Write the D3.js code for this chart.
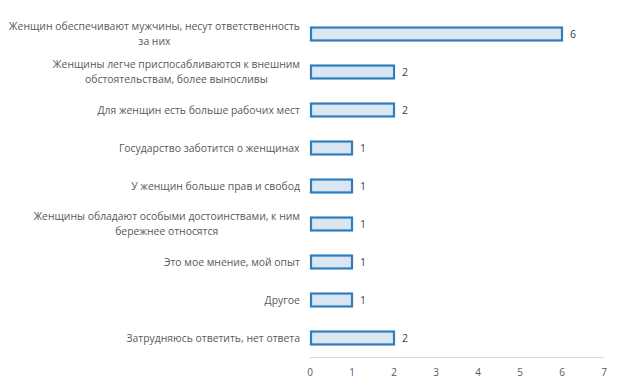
<!DOCTYPE html>
<html lang="ru">
<head>
<meta charset="utf-8">
<title>Chart</title>
<script src="https://cdn.jsdelivr.net/npm/d3@7"></script>
<style>
body { margin: 0; background: #fff; }
text { font-family: "Open Sans", sans-serif; }
</style>
</head>
<body>
<script>
// data
var categories = [
    ["Женщин обеспечивают мужчины, несут ответственность", "за них"],
    ["Женщины легче приспосабливаются к внешним", "обстоятельствам, более выносливы"],
    ["Для женщин есть больше рабочих мест"],
    ["Государство заботится о женщинах"],
    ["У женщин больше прав и свобод"],
    ["Женщины обладают особыми достоинствами, к ним", "бережнее относятся"],
    ["Это мое мнение, мой опыт"],
    ["Другое"],
    ["Затрудняюсь ответить, нет ответа"]
];
var values = [6, 2, 2, 1, 1, 1, 1, 1, 2];
var xTicks = [0, 1, 2, 3, 4, 5, 6, 7];

var w = 622, h = 388;
var plotLeft = 310, plotRight = 604, plotTop = 15, plotBottom = 357;

var svg = d3.select("body").append("svg")
    .attr("width", w)
    .attr("height", h);

var x = d3.scaleLinear().domain([0, 7]).range([plotLeft, plotRight]);
var y = d3.scaleBand()
    .domain(d3.range(categories.length))
    .range([plotTop, plotBottom])
    .paddingInner(0.66)
    .paddingOuter(0.33);

// axis line
svg.append("line")
    .attr("x1", plotLeft).attr("x2", plotRight)
    .attr("y1", plotBottom + 0.5).attr("y2", plotBottom + 0.5)
    .attr("stroke", "#d9d9d9")
    .attr("stroke-width", 1);

// tick labels
svg.selectAll(".tick-label")
    .data(xTicks)
    .enter()
    .append("text")
    .attr("class", "tick-label")
    .attr("x", function(d) { return x(d); })
    .attr("y", 376)
    .attr("text-anchor", "middle")
    .attr("font-size", "10px")
    .attr("fill", "#595959")
    .text(function(d) { return d; });

// bars
svg.selectAll(".bar")
    .data(values)
    .enter()
    .append("rect")
    .attr("class", "bar")
    .attr("x", x(0) + 1)
    .attr("y", function(d, i) { return y(i); })
    .attr("width", function(d) { return x(d) - x(0) - 1; })
    .attr("height", y.bandwidth())
    .attr("fill", "#dae6f2")
    .attr("stroke", "#2e7ebf")
    .attr("stroke-width", 2.2);

// value labels
svg.selectAll(".val")
    .data(values)
    .enter()
    .append("text")
    .attr("class", "val")
    .attr("x", function(d) { return x(d) + 8; })
    .attr("y", function(d, i) { return y(i) + y.bandwidth() / 2; })
    .attr("dy", "0.35em")
    .attr("font-size", "10.5px")
    .attr("fill", "#404040")
    .text(function(d) { return d; });

// category labels
var lab = svg.selectAll(".cat")
    .data(categories)
    .enter()
    .append("text")
    .attr("class", "cat")
    .attr("text-anchor", "middle")
    .attr("font-size", "10.4px")
    .attr("fill", "#595959");

lab.each(function(d, i) {
    var t = d3.select(this);
    var cy = y(i) + y.bandwidth() / 2 - (d.length - 1) * 7.5;
    d.forEach(function(line, j) {
        t.append("tspan")
            .attr("x", 154)
            .attr("y", cy + j * 15)
            .attr("dy", "0.35em")
            .text(line);
    });
});

// right-align each label block to x=300, lines centered among themselves
lab.each(function() {
    var bb = this.getBBox();
    var shift = 300 - (bb.x + bb.width);
    d3.select(this).selectAll("tspan").attr("x", 154 + shift);
});
</script>
</body>
</html>
